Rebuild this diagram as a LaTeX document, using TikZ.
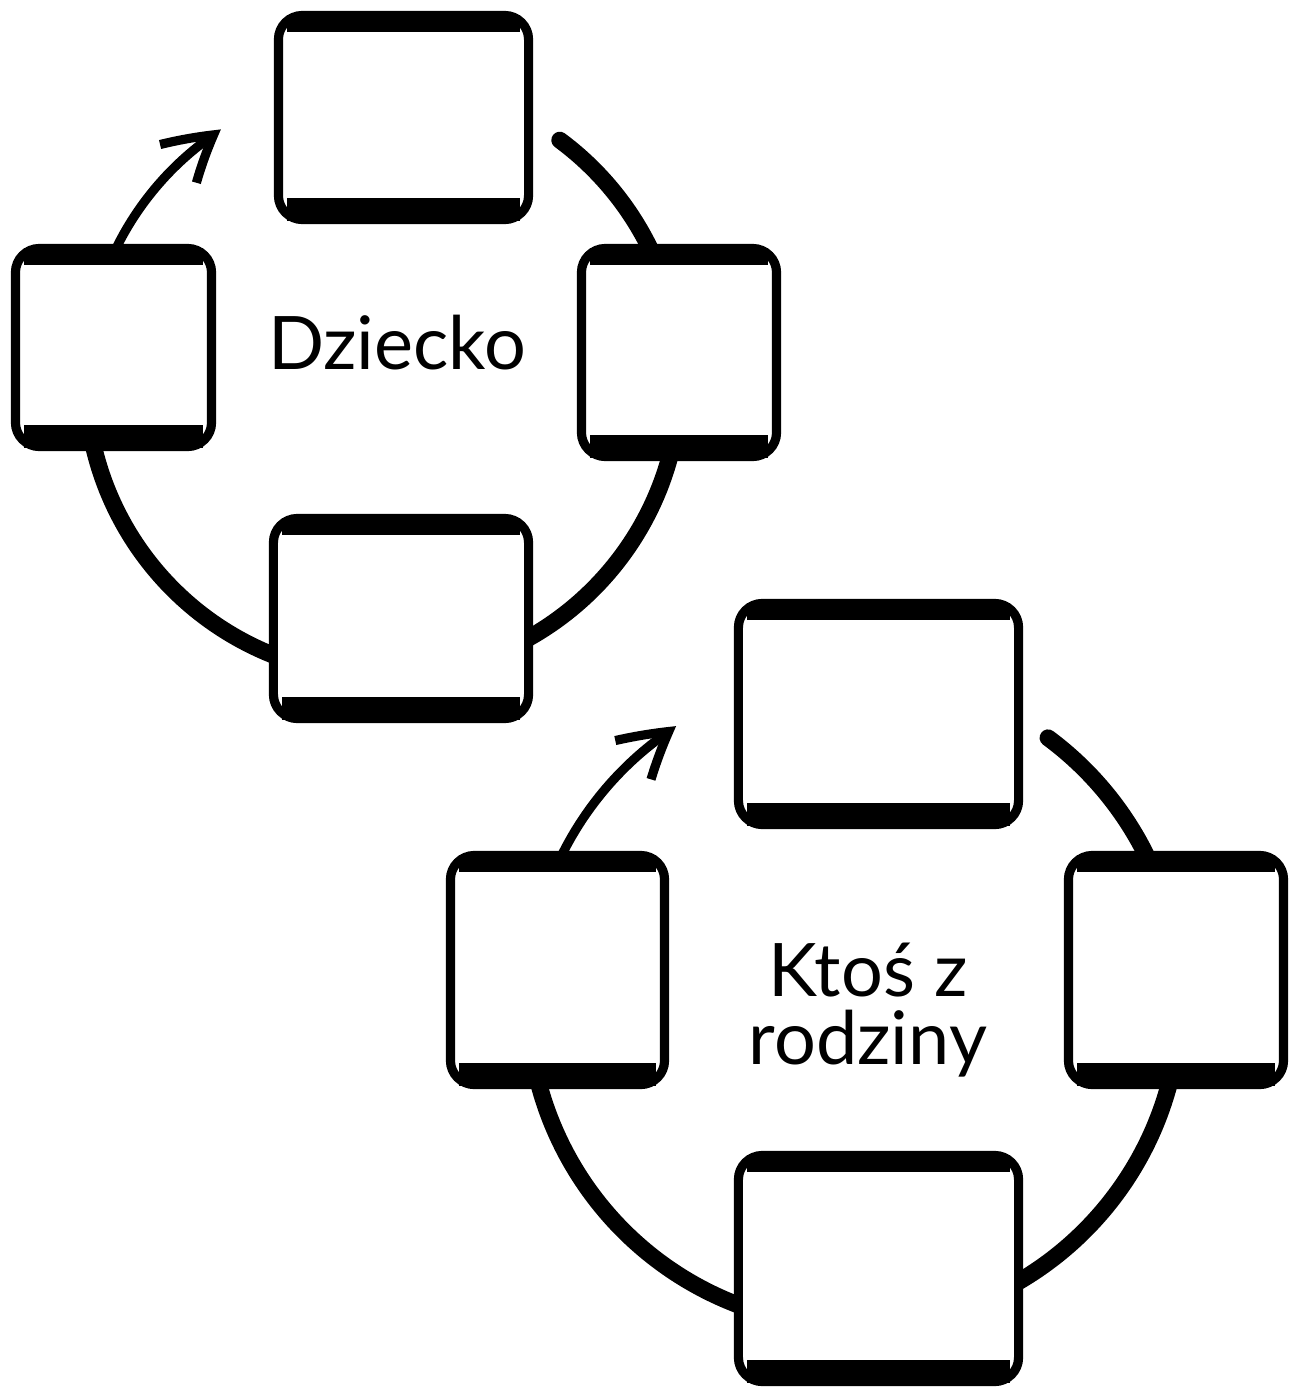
\documentclass[tikz,border=0pt]{standalone}
\usepackage{fontspec}
\setmainfont{Lato}
\usetikzlibrary{calc,arrows.meta,bending}
\begin{document}
\begin{tikzpicture}[x=0.01cm,y=-0.01cm,
  cbox/.style={draw=black,fill=white,line width=2.6pt,rounded corners=0.24cm,inner sep=0pt,outer sep=0pt},
  topband/.style={line width=5pt},
  botband/.style={line width=6.5pt},
  ring/.style={line width=4.8pt,line cap=round},
  cyc/.style={line width=2.6pt,line cap=round,-{Straight Barb[length=13pt,width=15pt,bend]}},
  lab/.style={font=\fontsize{21}{19.5}\selectfont,align=center,inner sep=0pt}]
\useasboundingbox[fill=white] (0,0) rectangle (1297,1390);
\coordinate (c1) at (383,379);
\coordinate (c2) at (854,1000);
% ring 1
\draw[ring] ($(c1)+(53.5:2.97cm)$) arc[start angle=53.5,end angle=15,radius=2.97cm];
\draw[ring] ($(c1)+(-5:2.97cm)$) arc[start angle=-5,end angle=-75,radius=2.97cm];
\draw[ring] ($(c1)+(-105:2.97cm)$) arc[start angle=-105,end angle=-175,radius=2.97cm];
\draw[cyc] ($(c1)+(158:2.97cm)$) arc[start angle=158,end angle=123,radius=2.97cm];
% ring 2
\draw[ring] ($(c2)+(53.5:3.26cm)$) arc[start angle=53.5,end angle=15,radius=3.26cm];
\draw[ring] ($(c2)+(-5:3.26cm)$) arc[start angle=-5,end angle=-75,radius=3.26cm];
\draw[ring] ($(c2)+(-105:3.26cm)$) arc[start angle=-105,end angle=-175,radius=3.26cm];
\draw[cyc] ($(c2)+(158:3.26cm)$) arc[start angle=158,end angle=123,radius=3.26cm];
% boxes
\node[cbox,minimum width=2.50cm,minimum height=2.04cm] (t1) at (403.5,117.5) {};
\node[cbox,minimum width=1.96cm,minimum height=1.98cm] (l1) at (113.5,347.5) {};
\node[cbox,minimum width=1.95cm,minimum height=2.08cm] (r1) at (679,352.5) {};
\node[cbox,minimum width=2.55cm,minimum height=2.00cm] (b1) at (401,618.5) {};
\node[cbox,minimum width=2.80cm,minimum height=2.21cm] (t2) at (878.5,714) {};
\node[cbox,minimum width=2.14cm,minimum height=2.29cm] (l2) at (557.5,970) {};
\node[cbox,minimum width=2.15cm,minimum height=2.29cm] (r2) at (1176,970) {};
\node[cbox,minimum width=2.80cm,minimum height=2.26cm] (b2) at (878.5,1268.5) {};
\foreach \n in {t1,l1,r1,b1,t2,l2,r2,b2}{
  \draw[topband] ($(\n.north west)+(9,8)$) -- ($(\n.north east)+(-9,8)$);
  \draw[botband] ($(\n.south west)+(9,-10)$) -- ($(\n.south east)+(-9,-10)$);
}
% labels
\node[lab] (d1) at (397,343) {Dziecko};
\node[lab] (d2) at (868,1010) {Ktoś z\\rodziny};
\end{tikzpicture}
\end{document}
